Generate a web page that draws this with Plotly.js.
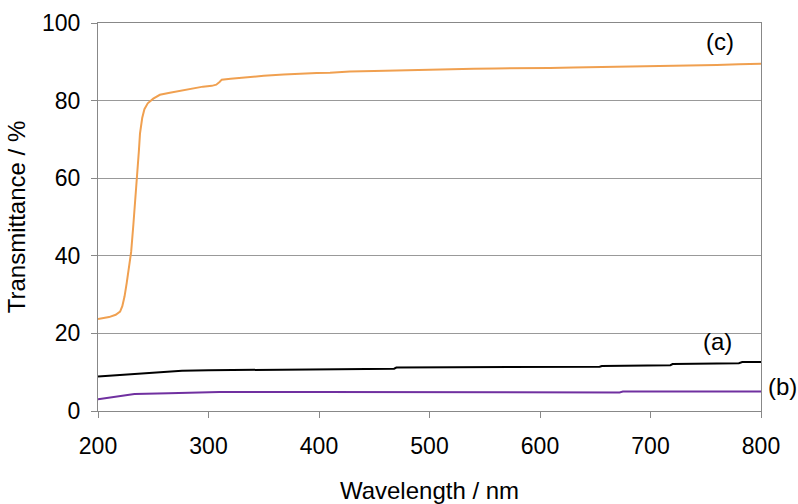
<!DOCTYPE html>
<html>
<head>
<meta charset="utf-8">
<script src="https://cdn.plot.ly/plotly-3.0.1.min.js"></script>
<style>html,body{margin:0;padding:0;background:#fff;}#chart{width:798px;height:504px;}</style>
</head>
<body>
<div id="chart"></div>
<script>
// (c) orange curve
const wlC = [200, 205, 210, 216, 220, 222, 224, 226, 228, 230, 232, 234, 235, 237, 238, 240, 242, 245, 250, 256, 265, 277, 287, 295, 303, 307, 310, 312, 320, 338, 350, 368, 380, 398, 410, 428, 450, 473, 500, 519, 540, 560, 580, 609, 630, 650, 680, 700, 720, 740, 760, 780, 796, 800];
const tC  = [23.7, 23.9, 24.2, 24.8, 25.6, 27, 29.5, 33, 36.5, 41, 48, 55, 59.6, 67, 71.5, 75.5, 77.8, 79.3, 80.5, 81.5, 82.0, 82.6, 83.1, 83.6, 83.8, 84.1, 84.8, 85.4, 85.6, 86.1, 86.4, 86.7, 86.9, 87.1, 87.2, 87.5, 87.6, 87.8, 88.0, 88.2, 88.2, 88.3, 88.3, 88.4, 88.5, 88.6, 88.7, 88.8, 88.9, 89.0, 89.2, 89.4, 89.5, 89.5];
// (a) black curve
const wlA = [200, 215, 235, 252, 276, 300, 330, 400, 468, 470, 570, 654, 656, 718, 720, 780, 783, 800];
const tA  = [8.9, 9.2, 9.7, 10.1, 10.4, 10.5, 10.6, 10.75, 10.9, 11.2, 11.3, 11.4, 11.6, 11.8, 12.1, 12.3, 12.6, 12.6];
// (b) purple curve
const wlB = [200, 215, 233, 264, 310, 400, 500, 600, 672, 675, 800];
const tB  = [3.0, 3.7, 4.4, 4.6, 4.9, 4.9, 4.8, 4.8, 4.8, 5.0, 5.0];
const xTicks = [200, 300, 400, 500, 600, 700, 800];
const yTicks = [0, 20, 40, 60, 80, 100];

const fam = 'Liberation Sans, Arial, sans-serif';
const tickFont = {family: fam, size: 23, color: '#000'};
const font = {family: fam, size: 24, color: '#000'};
const traces = [
  {x: wlC, y: tC, mode: 'lines', line: {color: '#F0A050', width: 2}, name: '(c)'},
  {x: wlA, y: tA, mode: 'lines', line: {color: '#000000', width: 2}, name: '(a)'},
  {x: wlB, y: tB, mode: 'lines', line: {color: '#7030A0', width: 2}, name: '(b)'}
];
const layout = {
  width: 798, height: 504,
  margin: {l: 98, r: 37, t: 23, b: 93},
  paper_bgcolor: '#fff', plot_bgcolor: '#fff',
  showlegend: false,
  font: font,
  xaxis: {
    range: [200, 800], tickvals: xTicks, ticktext: xTicks.map(String),
    showgrid: false, zeroline: false,
    showline: true, linecolor: '#888', linewidth: 1, mirror: true,
    ticks: 'outside', ticklen: 6, tickcolor: '#888',
    ticklabelstandoff: 8,
    tickfont: tickFont,
    title: {text: 'Wavelength / nm', font: font, standoff: 28}
  },
  yaxis: {
    range: [0, 100], tickvals: yTicks, ticktext: yTicks.map(String),
    showgrid: true, gridcolor: '#999', gridwidth: 1, zeroline: false,
    showline: true, linecolor: '#888', linewidth: 1, mirror: true,
    ticks: 'outside', ticklen: 6, tickcolor: '#888',
    ticklabelstandoff: 6,
    tickfont: tickFont,
    title: {text: 'Transmittance / %', font: font, standoff: 9}
  },
  annotations: [
    {x: 0.938, y: 0.952, xref: 'paper', yref: 'paper', xanchor: 'center', yanchor: 'middle', text: '(c)', showarrow: false, font: font},
    {x: 0.934, y: 0.178, xref: 'paper', yref: 'paper', xanchor: 'center', yanchor: 'middle', text: '(a)', showarrow: false, font: font},
    {x: 1.032, y: 0.064, xref: 'paper', yref: 'paper', xanchor: 'center', yanchor: 'middle', text: '(b)', showarrow: false, font: font}
  ]
};
Plotly.newPlot('chart', traces, layout, {displayModeBar: false, staticPlot: true});
</script>
</body>
</html>
